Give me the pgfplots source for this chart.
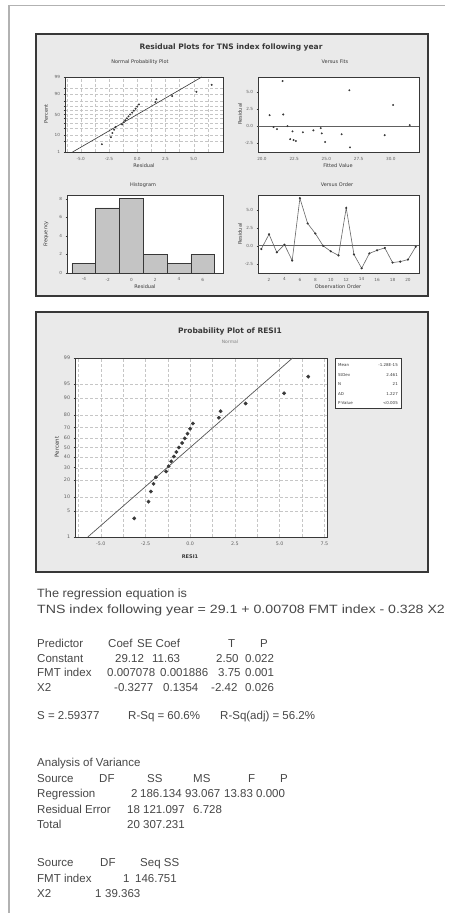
\documentclass[border=0pt]{standalone}
\usepackage{graphicx}
\usepackage{pgfplots}
\pgfplotsset{compat=1.18}
\usepackage{fontspec}
\setmainfont{Liberation Sans}
\newfontfamily\chart{DejaVu Sans}
\definecolor{ink}{HTML}{383838}
\definecolor{txt}{HTML}{474747}
\definecolor{panel}{HTML}{EAEAEA}
\definecolor{bar}{HTML}{C4C4C4}

\pgfplotsset{
  mini/.style={
    scale only axis, anchor=south west,
    axis background/.style={fill=white},
    axis line style={ink, line width=0.6pt},
    tick style={ink, line width=0.4pt},
    major tick length=1.4pt, minor tick length=0pt,
    tick align=outside,
    xtick pos=bottom, ytick pos=left,
    tick label style={font=\chart\fontsize{4.2}{5}\selectfont, text=ink!80},
    /pgf/number format/assume math mode=true,
  },
  dgrid/.style={grid style={densely dashed, gray!45, line width=0.3pt},
                minor grid style={densely dashed, gray!45, line width=0.3pt}},
}
% session text: one token at a time
\newcommand{\tx}[3]{\node[anchor=base west, inner sep=0pt, text=txt,
  font=\fontsize{11.5}{14}\selectfont] at (#1,#2) {#3};}
\newcommand{\lab}[3]{\node[inner sep=0pt, text=ink,
  font=\chart\fontsize{5}{6}\selectfont] at (#1,#2) {#3};}
\newcommand{\rlab}[3]{\node[inner sep=0pt, text=ink, rotate=90,
  font=\chart\fontsize{5}{6}\selectfont] at (#1,#2) {#3};}

\begin{document}
\begin{tikzpicture}[x=1pt,y=1pt]
\useasboundingbox (0,0) rectangle (454,913);
\fill[white] (0,0) rectangle (454,913);
% page edge
\draw[gray!60, line width=1pt] (8,907) -- (445,907);
\draw[gray!60, line width=1.3pt] (9,907) -- (9,0);
% panels
\draw[line width=1.6pt, draw=ink, fill=panel] (36,617) rectangle (428,879);
\draw[line width=1.6pt, draw=ink, fill=panel] (36,341) rectangle (428,601);

% ---------- four-in-one residual plots ----------
\node[font=\chart\bfseries\fontsize{7.5}{9}\selectfont, text=ink] at (231,866)
  {Residual Plots for TNS index following year};

% normal probability plot
\begin{axis}[mini, dgrid, at={(65pt,761pt)}, width=158pt, height=75pt,
  xmin=-6.4, xmax=7.6, ymin=-2.326, ymax=2.326,
  xtick={-5,-2.5,0,2.5,5}, xticklabels={-5.0,-2.5,0.0,2.5,5.0},
  minor xtick={-6.25,-3.75,-1.25,1.25,3.75,6.25},
  ytick={-2.326,-1.645,-1.2816,-0.8416,-0.5244,-0.2533,0,0.2533,0.5244,0.8416,1.2816,1.645,2.326},
  yticklabels={1,,10,,,,50,,,,90,,99},
  grid=both]
\addplot[ink, line width=0.6pt] coordinates {(-5.725,-2.326)(5.725,2.326)};
\addplot[only marks, mark=*, mark size=0.75pt, ink] coordinates {
(-3.13,-1.842)(-2.33,-1.409)(-2.20,-1.145)(-2.05,-0.943)(-1.92,-0.773)
(-1.34,-0.624)(-1.20,-0.487)(-1.06,-0.358)(-0.91,-0.236)(-0.77,-0.117)
(-0.63,0)(-0.45,0.117)(-0.30,0.236)(-0.15,0.358)(0.00,0.487)(0.15,0.624)
(1.60,0.773)(1.70,0.943)(3.10,1.145)(5.25,1.409)(6.60,1.842)};
\end{axis}
\lab{140}{851}{Normal Probability Plot}
\lab{144}{747}{Residual}
\rlab{46}{799}{Percent}

% versus fits
\begin{axis}[mini, at={(258pt,761pt)}, width=161pt, height=75pt,
  xmin=19.69, xmax=32.19, ymin=-3.8, ymax=7.2,
  xtick={20,22.5,25,27.5,30}, xticklabels={20.0,22.5,25.0,27.5,30.0},
  ytick={-2.5,0,2.5,5}, yticklabels={-2.5,0.0,2.5,5.0}]
\addplot[ink!80, line width=0.6pt] coordinates {(19.69,0)(32.19,0)};
\addplot[only marks, mark=*, mark size=0.75pt, ink] coordinates {
(21.16,-0.45)(20.59,1.60)(23.17,-0.91)(31.47,0.15)(22.45,-2.05)
(21.60,6.60)(30.18,3.10)(21.65,1.70)(21.98,0.00)(22.37,-0.77)
(29.53,-1.34)(26.78,5.25)(26.18,-1.20)(26.83,-3.13)(24.64,-1.06)
(23.99,-0.63)(24.56,-0.30)(24.90,-2.33)(22.63,-2.20)(22.19,-1.92)
(20.90,-0.15)};
\end{axis}
\lab{335}{851}{Versus Fits}
\lab{338}{747}{Fitted Value}
\rlab{240}{799}{Residual}

% histogram
\begin{axis}[mini, at={(67pt,640pt)}, width=156pt, height=78pt,
  xmin=-5.42, xmax=7.7, ymin=0, ymax=8.4,
  xtick={-4,-2,0,2,4,6}, ytick={0,2,4,6,8}]
\addplot[ybar interval, fill=bar, draw=ink, line width=0.6pt] coordinates {
(-5,1)(-3,7)(-1,8)(1,2)(3,1)(5,2)(7,2)};
\end{axis}
\lab{143}{728}{Histogram}
\lab{145}{626}{Residual}
\rlab{46}{679}{Frequency}

% versus order
\begin{axis}[mini, at={(258pt,640pt)}, width=161pt, height=78pt,
  xmin=0.57, xmax=21.43, ymin=-3.78, ymax=7.05,
  xtick={2,4,6,8,10,12,14,16,18,20},
  ytick={-2.5,0,2.5,5}, yticklabels={-2.5,0.0,2.5,5.0}]
\addplot[ink!80, line width=0.6pt] coordinates {(0.57,0)(21.43,0)};
\addplot[gray!80!black, line width=0.6pt, mark=*, mark size=0.75pt,
  mark options={ink}] coordinates {
(1,-0.45)(2,1.60)(3,-0.91)(4,0.15)(5,-2.05)(6,6.60)(7,3.10)(8,1.70)
(9,0.00)(10,-0.77)(11,-1.34)(12,5.25)(13,-1.20)(14,-3.13)(15,-1.06)
(16,-0.63)(17,-0.30)(18,-2.33)(19,-2.20)(20,-1.92)(21,-0.15)};
\end{axis}
\lab{337}{728}{Versus Order}
\lab{338}{626}{Observation Order}
\rlab{240}{679}{Residual}

% ---------- probability plot of RESI1 ----------
\node[font=\chart\bfseries\fontsize{7.5}{9}\selectfont, text=ink] at (230,582)
  {Probability Plot of RESI1};
\node[font=\chart\fontsize{4.5}{5}\selectfont, text=gray] at (230,571) {Normal};
\begin{axis}[mini, dgrid, at={(75pt,376pt)}, width=252pt, height=179pt,
  xmin=-6.44, xmax=7.65, ymin=-2.326, ymax=2.326,
  tick label style={font=\chart\fontsize{4.8}{5}\selectfont},
  xtick={-5,-2.5,0,2.5,5,7.5}, xticklabels={-5.0,-2.5,0.0,2.5,5.0,7.5},
  minor xtick={-6.25,-3.75,-1.25,1.25,3.75,6.25},
  ytick={-2.326,-1.645,-1.2816,-0.8416,-0.5244,-0.2533,0,0.2533,0.5244,0.8416,1.2816,1.645,2.326},
  yticklabels={1,5,10,20,30,40,50,60,70,80,90,95,99},
  grid=both]
\addplot[ink!85, line width=0.7pt] coordinates {(-5.725,-2.326)(5.725,2.326)};
\addplot[only marks, mark=*, mark size=1.7pt, ink] coordinates {
(-3.13,-1.842)(-2.33,-1.409)(-2.20,-1.145)(-2.05,-0.943)(-1.92,-0.773)
(-1.34,-0.624)(-1.20,-0.487)(-1.06,-0.358)(-0.91,-0.236)(-0.77,-0.117)
(-0.63,0)(-0.45,0.117)(-0.30,0.236)(-0.15,0.358)(0.00,0.487)(0.15,0.624)
(1.60,0.773)(1.70,0.943)(3.10,1.145)(5.25,1.409)(6.60,1.842)};
\end{axis}
\node[font=\chart\bfseries\fontsize{5}{6}\selectfont, text=ink] at (190,356) {RESI1};
\node[font=\chart\fontsize{5.5}{6}\selectfont, text=ink, rotate=90] at (57,466) {Percent};
% statistics box
\draw[ink, line width=0.6pt, fill=white] (335,555) rectangle (401,505);
\foreach \k/\v [count=\i] in {Mean/-1.28E-15, StDev/2.461, N/21, AD/1.227, P-Value/{<0.005}} {
  \node[anchor=west, inner sep=0pt, font=\chart\fontsize{4}{5}\selectfont, text=ink]
    at (338,557-\i*9.5) {\k};
  \node[anchor=east, inner sep=0pt, font=\chart\fontsize{4}{5}\selectfont, text=ink]
    at (398,557-\i*9.5) {\v};
}

% ---------- session output ----------
\node[anchor=base west, inner sep=0pt, text=txt, font=\fontsize{12}{14}\selectfont]
  at (37,315) {\scalebox{1.06}[1]{The regression equation is}};
\node[anchor=base west, inner sep=0pt, text=txt, font=\fontsize{12}{14}\selectfont]
  at (37,299) {\scalebox{1.18}[1]{TNS index following year = 29.1 + 0.00708 FMT index - 0.328 X2}};

\tx{37}{265}{Predictor}\tx{108}{265}{Coef}\tx{137}{265}{SE Coef}\tx{228}{265}{T}\tx{260}{265}{P}
\tx{37}{250}{Constant}\tx{115}{250}{29.12}\tx{152}{250}{11.63}\tx{216}{250}{2.50}\tx{245}{250}{0.022}
\tx{37}{236}{FMT index}\tx{107}{236}{0.007078}\tx{160}{236}{0.001886}\tx{218}{236}{3.75}\tx{245}{236}{0.001}
\tx{37}{221}{X2}\tx{114}{221}{-0.3277}\tx{163}{221}{0.1354}\tx{211}{221}{-2.42}\tx{245}{221}{0.026}

\tx{37}{193}{S = 2.59377}\tx{128}{193}{R-Sq = 60.6\%}\tx{220}{193}{R-Sq(adj) = 56.2\%}

\tx{37}{146}{Analysis of Variance}
\tx{37}{130}{Source}\tx{99}{130}{DF}\tx{147}{130}{SS}\tx{193}{130}{MS}\tx{248}{130}{F}\tx{280}{130}{P}
\tx{37}{115}{Regression}\tx{131}{115}{2}\tx{140}{115}{186.134}\tx{185}{115}{93.067}\tx{224}{115}{13.83}\tx{256}{115}{0.000}
\tx{37}{99}{Residual Error}\tx{127}{99}{18}\tx{143}{99}{121.097}\tx{193}{99}{6.728}
\tx{37}{84}{Total}\tx{127}{84}{20}\tx{143}{84}{307.231}

\tx{37}{46}{Source}\tx{100}{46}{DF}\tx{140}{46}{Seq SS}
\tx{37}{30}{FMT index}\tx{123}{30}{1}\tx{135}{30}{146.751}
\tx{37}{15}{X2}\tx{95}{15}{1}\tx{105}{15}{39.363}
\end{tikzpicture}
\end{document}
